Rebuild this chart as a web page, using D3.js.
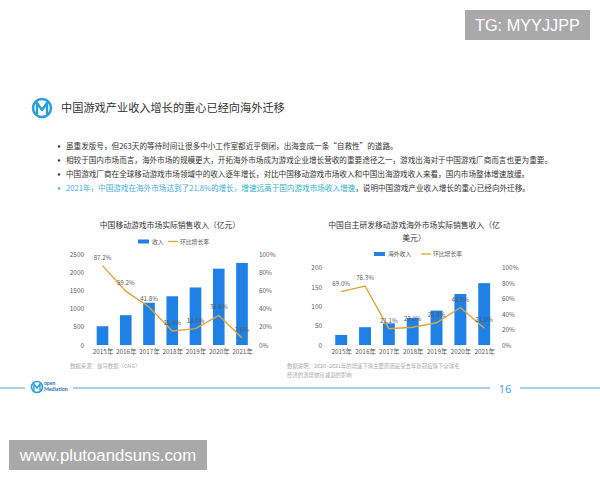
<!DOCTYPE html>
<html><head><meta charset="utf-8">
<script src="https://cdn.jsdelivr.net/npm/d3@7"></script>
<style>
html,body{margin:0;padding:0;background:#fff;}
svg{display:block;font-family:"Noto Sans CJK SC","Noto Sans",sans-serif;}
</style></head>
<body>
<script>
// ---- data ----
const years = ["2015年","2016年","2017年","2018年","2019年","2020年","2021年"];
const domesticRevenue = [515, 819, 1161, 1339, 1581, 2097, 2255];
const domesticGrowth = [87.2, 59.2, 41.8, 15.4, 18.0, 32.6, 7.6];
const overseasRevenue = [26, 46, 56, 70, 89, 132, 160];
const overseasGrowth = [69.0, 76.3, 21.1, 23.0, 28.8, 48.5, 21.8];
const domesticTicks = [0, 500, 1000, 1500, 2000, 2500];
const overseasTicks = [0, 50, 100, 150, 200];
const pctTicks = [0, 20, 40, 60, 80, 100];
const bullets = [
  "虽重发版号，但263天的等待时间让很多中小工作室都近乎倒闭，出海变成一条“自救性”的道路。",
  "相较于国内市场而言，海外市场的规模更大，开拓海外市场成为游戏企业增长营收的重要途径之一，游戏出海对于中国游戏厂商而言也更为重要。",
  "中国游戏厂商在全球移动游戏市场领域中的收入逐年增长，对比中国移动游戏市场收入和中国出海游戏收入来看，国内市场整体增速放缓。"
];
const lastBullet = [
  ["2021年，中国游戏在海外市场达到了21.8%的增长，", "#45aee0"],
  ["增速远高于国内游戏市场收入增速", "#2fb3c6"],
  ["，说明中国游戏产业收入增长的重心已经向外迁移。", "#333"]
];

const W = 600, H = 480;
const svg = d3.select("body").append("svg").attr("width", W).attr("height", H);
svg.append("rect").attr("width", W).attr("height", H).attr("fill", "#fff");

const BLUE = "#1f80e6", GOLD = "#e0a53a", TXT = "#595959";

// ---- header ----
const logo = svg.append("g").attr("transform", "translate(42,108)");
logo.append("circle").attr("r", 9).attr("fill", "none").attr("stroke", "#2b9ed8").attr("stroke-width", 2.6);
logo.append("path").attr("d", "M-5,6 L-5,-5 L0,2 L5,-5 L5,6").attr("fill", "none")
  .attr("stroke", "#2b9ed8").attr("stroke-width", 2.4).attr("stroke-linejoin", "round");
svg.append("text").attr("x", 61).attr("y", 112).attr("font-size", 11.2).attr("fill", "#333")
  .text("中国游戏产业收入增长的重心已经向海外迁移");

// ---- bullets ----
const by = [149, 163, 177];
bullets.forEach((t, i) => {
  svg.append("circle").attr("cx", 59).attr("cy", by[i] - 2.6).attr("r", 1.2).attr("fill", "#333");
  svg.append("text").attr("x", 66).attr("y", by[i]).attr("font-size", 7.6).attr("fill", "#333").text(t);
});
svg.append("circle").attr("cx", 59).attr("cy", 191 - 2.6).attr("r", 1.2).attr("fill", "#45aee0");
const lt = svg.append("text").attr("x", 66).attr("y", 191).attr("font-size", 7.6);
lastBullet.forEach(([t, c]) => lt.append("tspan").attr("fill", c).text(t));

// ---- chart builder ----
function chart(cfg) {
  const g = svg.append("g");
  const x = d3.scalePoint().domain(years).range(cfg.xr);
  const step = x.step();
  const y = d3.scaleLinear().domain([0, cfg.max]).range([345, cfg.top]);
  const y2 = d3.scaleLinear().domain([0, 100]).range([345, cfg.top]);

  // titles
  cfg.title.forEach((t, i) => {
    g.append("text").attr("x", cfg.titleX).attr("y", 228 + i * 13).attr("text-anchor", "middle")
      .attr("font-size", 7.8).attr("fill", "#333").text(t);
  });
  // legend
  const lg = g.append("g").attr("transform", `translate(${cfg.legX},${cfg.legY})`);
  lg.append("rect").attr("x", 0).attr("y", -2).attr("width", 11).attr("height", 4).attr("fill", BLUE);
  lg.append("text").attr("x", 14).attr("y", 2.2).attr("font-size", 5.8).attr("fill", TXT).text(cfg.barName);
  lg.append("line").attr("x1", cfg.legLineX).attr("x2", cfg.legLineX + 10).attr("y1", 0).attr("y2", 0)
    .attr("stroke", GOLD).attr("stroke-width", 1.3);
  lg.append("text").attr("x", cfg.legLineX + 12).attr("y", 2.2).attr("font-size", 5.8).attr("fill", TXT).text("环比增长率");

  // axes
  const la = g.append("g").attr("transform", `translate(${cfg.leftX},0)`)
    .call(d3.axisLeft(y).tickValues(cfg.ticks).tickSize(0).tickPadding(0).tickFormat(d3.format("d")));
  const ra = g.append("g").attr("transform", `translate(${cfg.rightX},0)`)
    .call(d3.axisRight(y2).tickValues(pctTicks).tickSize(0).tickPadding(0).tickFormat(d => d + "%"));
  const ba = g.append("g").attr("transform", "translate(0,349)")
    .call(d3.axisBottom(x).tickSize(0).tickPadding(0));
  [la, ra, ba].forEach(a => {
    a.select(".domain").remove();
    a.selectAll("text").attr("font-size", 6.4).attr("fill", TXT)
      .attr("font-family", "'Noto Sans CJK SC','Noto Sans',sans-serif");
  });
  ba.selectAll("text").attr("dy", "0.8em");

  // bars
  const bw = step * 0.5;
  g.selectAll(".bar").data(cfg.bars).enter().append("rect")
    .attr("x", (d, i) => x(years[i]) - bw / 2).attr("width", bw)
    .attr("y", d => y(d)).attr("height", d => 345 - y(d)).attr("fill", BLUE);

  // line
  const line = d3.line().x((d, i) => x(years[i])).y(d => y2(d));
  g.append("path").datum(cfg.growth).attr("d", line).attr("fill", "none")
    .attr("stroke", GOLD).attr("stroke-width", 1.4);
  g.selectAll(".lbl").data(cfg.growth).enter().append("text")
    .attr("x", (d, i) => x(years[i])).attr("y", d => y2(d) - 6)
    .attr("text-anchor", "middle").attr("font-size", 6.2).attr("fill", TXT)
    .text(d => d.toFixed(1) + "%");
}

chart({
  xr: [102.5, 242], max: 2500, top: 254, ticks: domesticTicks,
  bars: domesticRevenue, growth: domesticGrowth,
  leftX: 84, rightX: 259,
  title: ["中国移动游戏市场实际销售收入（亿元）"], titleX: 170,
  legX: 138, legY: 241.5, barName: "收入", legLineX: 30
});
chart({
  xr: [341.2, 484.2], max: 200, top: 267.7, ticks: overseasTicks,
  bars: overseasRevenue, growth: overseasGrowth,
  leftX: 322, rightX: 502,
  title: ["中国自主研发移动游戏海外市场实际销售收入（亿", "美元）"], titleX: 414,
  legX: 374, legY: 254, barName: "海外收入", legLineX: 47
});

// ---- footnotes ----
svg.append("text").attr("x", 70).attr("y", 368).attr("font-size", 5.4).attr("fill", "#aaa")
  .text("数据来源：伽马数据（CNG）");
svg.append("text").attr("x", 287).attr("y", 368).attr("font-size", 5.4).attr("fill", "#aaa")
  .text("数据说明：2020~2021年的增速下滑主要原因是受去年新冠疫情下全球宅");
svg.append("text").attr("x", 287).attr("y", 377).attr("font-size", 5.4).attr("fill", "#aaa")
  .text("经济的激增效应减退的影响");

// ---- footer ----
const LB = "#4aa6d8";
[[0, 25], [73, 490], [520, 600]].forEach(([a, b]) =>
  svg.append("line").attr("x1", a).attr("x2", b).attr("y1", 388).attr("y2", 388).attr("stroke", LB).attr("stroke-width", 1));
const fl = svg.append("g").attr("transform", "translate(37,387)");
fl.append("circle").attr("r", 5.5).attr("fill", "none").attr("stroke", "#2b9ed8").attr("stroke-width", 1.6);
fl.append("path").attr("d", "M-3,3.5 L-3,-3 L0,1 L3,-3 L3,3.5").attr("fill", "none").attr("stroke", "#2b9ed8").attr("stroke-width", 1.4);
svg.append("text").attr("x", 44).attr("y", 385).attr("font-size", 5).attr("fill", "#2b6fb0").attr("font-weight", "bold")
  .attr("font-family", "Lato, sans-serif").text("open");
svg.append("text").attr("x", 44).attr("y", 391).attr("font-size", 5.2).attr("fill", "#2b6fb0").attr("font-weight", "bold")
  .attr("font-family", "Lato, sans-serif").text("Mediation");
svg.append("text").attr("x", 505).attr("y", 393).attr("text-anchor", "middle").attr("font-size", 11)
  .attr("fill", LB).attr("font-family", "'Noto Sans',sans-serif").text("16");

// ---- watermarks ----
svg.append("rect").attr("x", 465).attr("y", 10).attr("width", 125).attr("height", 30).attr("fill", "#a9a9a9");
svg.append("text").attr("x", 527.5).attr("y", 31).attr("text-anchor", "middle").attr("font-size", 16.3)
  .attr("fill", "#fff").attr("font-family", "'Liberation Sans',Arial,sans-serif").text("TG: MYYJJPP");
svg.append("rect").attr("x", 9).attr("y", 440).attr("width", 198).attr("height", 30).attr("fill", "#a9a9a9");
svg.append("text").attr("x", 108).attr("y", 461).attr("text-anchor", "middle").attr("font-size", 16.8)
  .attr("fill", "#fff").attr("font-family", "'Liberation Sans',Arial,sans-serif").text("www.plutoandsuns.com");
</script>
</body></html>
